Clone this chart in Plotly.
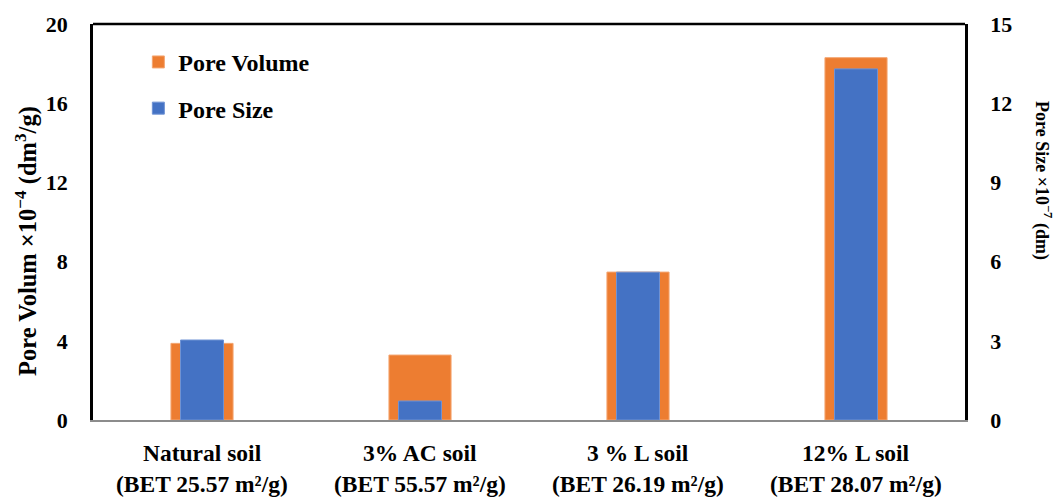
import plotly.graph_objects as go

categories = ["Natural soil", "3% AC soil", "3 % L soil", "12% L soil"]
bet_labels = ["(BET 25.57 m²/g)", "(BET 55.57 m²/g)", "(BET 26.19 m²/g)", "(BET 28.07 m²/g)"]
pore_volume = [3.87, 3.28, 7.47, 18.3]     # ×10^-4 dm3/g (left axis)
pore_size = [3.03, 0.72, 5.6, 13.3]        # ×10^-7 dm (right axis)
left_ticks = [0, 4, 8, 12, 16, 20]
right_ticks = [0, 3, 6, 9, 12, 15]

FONT = "Liberation Serif"
ORANGE = "#ED7D31"
BLUE = "#4472C4"
fs_tick = 22
fs_lab = 23.5
fs_leg = 24

fig = go.Figure()
fig.add_trace(go.Bar(
    x=categories, y=pore_volume, name="Pore Volume", width=0.285,
    marker=dict(color=ORANGE, line=dict(color="#F4A672", width=1)),
    yaxis="y", legendgroup="a",
))
fig.add_trace(go.Bar(
    x=categories, y=pore_size, name="Pore Size", width=0.197,
    marker=dict(color=BLUE, line=dict(color="#6F93D4", width=1)),
    yaxis="y2", legendgroup="b",
))

annotations = []
for c, b in zip(categories, bet_labels):
    annotations.append(dict(x=c, xref="x", y=0, yref="paper", text=f"<b>{c}</b>",
                            showarrow=False, yanchor="middle", yshift=-33,
                            font=dict(family=FONT, size=fs_lab, color="black")))
    annotations.append(dict(x=c, xref="x", y=0, yref="paper", text=f"<b>{b}</b>",
                            showarrow=False, yanchor="middle", yshift=-64,
                            font=dict(family=FONT, size=fs_lab, color="black")))
annotations.append(dict(x=0, xref="paper", xshift=-67, y=0.452, yref="paper",
                        text="<b>Pore Volum ×10<sup>−4</sup> (dm<sup>3</sup>/g)</b>",
                        textangle=-90, showarrow=False, xanchor="center", yanchor="middle",
                        font=dict(family=FONT, size=24.5, color="black")))
annotations.append(dict(x=1, xref="paper", xshift=78, y=0.606, yref="paper",
                        text="<b>Pore Size ×10<sup>−7</sup> (dm)</b>",
                        textangle=90, showarrow=False, xanchor="center", yanchor="middle",
                        font=dict(family=FONT, size=18, color="black")))

fig.update_layout(
    width=1058, height=498,
    margin=dict(l=93, r=93, t=24, b=78),
    paper_bgcolor="white", plot_bgcolor="white",
    barmode="overlay",
    font=dict(family=FONT, size=fs_tick, color="black"),
    showlegend=True,
    legend=dict(x=0.052, y=0.96, xanchor="left", yanchor="top",
                bgcolor="rgba(0,0,0,0)", tracegroupgap=12,
                font=dict(family=FONT, size=fs_leg, color="black", weight="bold")),
    xaxis=dict(showticklabels=False, showgrid=False, ticks="",
               showline=True, linecolor="#8c8c8c", linewidth=2,
               range=[-0.5, 3.5]),
    yaxis=dict(range=[0, 20], tickvals=left_ticks, showgrid=False, zeroline=False,
               showline=True, linecolor="black", linewidth=2.5, ticks="",
               ticklabelstandoff=18,
               tickfont=dict(family=FONT, size=fs_tick, color="black", weight="bold")),
    yaxis2=dict(range=[0, 15], tickvals=right_ticks, overlaying="y", side="right",
                showgrid=False, zeroline=False, showline=True, linecolor="black",
                linewidth=2.5, ticks="", ticklabelstandoff=18,
                tickfont=dict(family=FONT, size=fs_tick, color="black", weight="bold")),
    annotations=annotations,
    shapes=[dict(type="line", xref="paper", yref="paper", x0=0, x1=1, y0=1, y1=1,
                 line=dict(color="black", width=2.5))],
)

fig.write_html("out.html", config={"displayModeBar": False},
               post_script="document.body.style.margin='0';")
